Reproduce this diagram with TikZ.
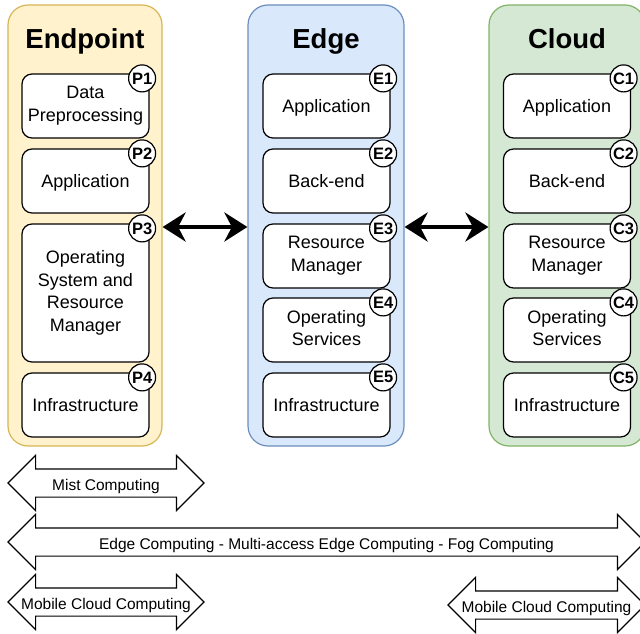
\documentclass[tikz,border=0pt]{standalone}
\usepackage{fontspec}
\setmainfont{Liberation Sans}
\usetikzlibrary{arrows.meta,shapes.arrows}
\definecolor{endfill}{HTML}{FFF2CC}
\definecolor{enddraw}{HTML}{D6B656}
\definecolor{edgefill}{HTML}{DAE8FC}
\definecolor{edgedraw}{HTML}{6C8EBF}
\definecolor{cloudfill}{HTML}{D5E8D4}
\definecolor{clouddraw}{HTML}{82B366}
\newcommand\boxstrut{\rule[-4pt]{0pt}{20pt}}
\begin{document}
\begin{tikzpicture}[x=1pt,y=-1pt,
  zone/.style={draw, rounded corners=20pt, line width=1.2pt, minimum height=441pt},
  zonetitle/.style={font=\bfseries\fontsize{27.5}{30}\selectfont, text height=20pt, text depth=6pt},
  layerbox/.style={draw, fill=white, rounded corners=10pt, line width=1.2pt,
    minimum width=127pt, minimum height=64pt, align=center,
    font=\fontsize{18}{22.5}\selectfont,
    execute at begin node=\boxstrut, execute at end node=\boxstrut},
  badge/.style={circle, draw, fill=white, line width=1.2pt, minimum size=27pt,
    inner sep=0pt, font=\bfseries\fontsize{16.5}{17}\selectfont},
  link/.style={{Stealth[length=23pt,width=29pt]}-{Stealth[length=23pt,width=29pt]}, line width=4pt},
  spanarrow/.style={double arrow, draw, fill=white, line width=1.2pt,
    double arrow head extend=13.5pt, double arrow tip angle=90,
    minimum width=54pt, inner xsep=0pt, inner ysep=13.5pt,
    label={[font=\fontsize{15.5}{17}\selectfont, text height=14.5pt, text depth=0pt]center:#1}}]
\clip (0,0) rectangle (640,634);
% three tiers
\node[zone, fill=endfill, draw=enddraw, minimum width=154pt] (endpoint) at (85,225.5) {};
\node[zone, fill=edgefill, draw=edgedraw, minimum width=156pt] (edge) at (326,225.5) {};
\node[zone, fill=cloudfill, draw=clouddraw, minimum width=156pt] (cloud) at (567,225.5) {};
\node[zonetitle] (endpointtitle) at (85,41.5) {Endpoint};
\node[zonetitle] (edgetitle) at (326,41.5) {Edge};
\node[zonetitle] (cloudtitle) at (567,41.5) {Cloud};
% endpoint layers
\node[layerbox] (p1) at (85.5,106) {Data\\Preprocessing};
\node[layerbox] (p2) at (85.5,181) {Application};
\node[layerbox, minimum height=138pt] (p3) at (85.5,293) {Operating\\System and\\Resource\\Manager};
\node[layerbox] (p4) at (85.5,405) {Infrastructure};
% edge layers
\node[layerbox] (e1) at (326.5,106) {Application};
\node[layerbox] (e2) at (326.5,181) {Back-end};
\node[layerbox] (e3) at (326.5,256) {Resource\\Manager};
\node[layerbox] (e4) at (326.5,330) {Operating\\Services};
\node[layerbox] (e5) at (326.5,405) {Infrastructure};
% cloud layers
\node[layerbox] (c1) at (567,106) {Application};
\node[layerbox] (c2) at (567,181) {Back-end};
\node[layerbox] (c3) at (567,256) {Resource\\Manager};
\node[layerbox] (c4) at (567,330) {Operating\\Services};
\node[layerbox] (c5) at (567,405) {Infrastructure};
% badges
\node[badge] (p1b) at ([xshift=-7.5pt,yshift=-5pt]p1.north east) {P1};
\node[badge] (p2b) at ([xshift=-7.5pt,yshift=-5pt]p2.north east) {P2};
\node[badge] (p3b) at ([xshift=-7.5pt,yshift=-5pt]p3.north east) {P3};
\node[badge] (p4b) at ([xshift=-7.5pt,yshift=-5pt]p4.north east) {P4};
\node[badge] (e1b) at ([xshift=-7.5pt,yshift=-5pt]e1.north east) {E1};
\node[badge] (e2b) at ([xshift=-7.5pt,yshift=-5pt]e2.north east) {E2};
\node[badge] (e3b) at ([xshift=-7.5pt,yshift=-5pt]e3.north east) {E3};
\node[badge] (e4b) at ([xshift=-7.5pt,yshift=-5pt]e4.north east) {E4};
\node[badge] (e5b) at ([xshift=-7.5pt,yshift=-5pt]e5.north east) {E5};
\node[badge] (c1b) at ([xshift=-7.5pt,yshift=-5pt]c1.north east) {C1};
\node[badge] (c2b) at ([xshift=-7.5pt,yshift=-5pt]c2.north east) {C2};
\node[badge] (c3b) at ([xshift=-7.5pt,yshift=-5pt]c3.north east) {C3};
\node[badge] (c4b) at ([xshift=-7.5pt,yshift=-5pt]c4.north east) {C4};
\node[badge] (c5b) at ([xshift=-7.5pt,yshift=-5pt]c5.north east) {C5};
% links between tiers
\draw[link] ([yshift=-1.5pt]endpoint.east) -- ([yshift=-1.5pt]edge.west);
\draw[link] ([yshift=-1.5pt]edge.east) -- ([yshift=-1.5pt]cloud.west);
% computing paradigms
\node[spanarrow={Mist Computing}, minimum height=196pt] (mist) at (106,483) {};
\node[spanarrow={Edge Computing - Multi-access Edge Computing - Fog Computing},
  minimum height=637pt] (mec) at (326.5,542) {};
\node[spanarrow={Mobile Cloud Computing}, minimum height=196pt] (mccleft) at (106,602) {};
\node[spanarrow={Mobile Cloud Computing}, minimum height=197pt] (mccright) at (546.5,605) {};
\end{tikzpicture}
\end{document}
